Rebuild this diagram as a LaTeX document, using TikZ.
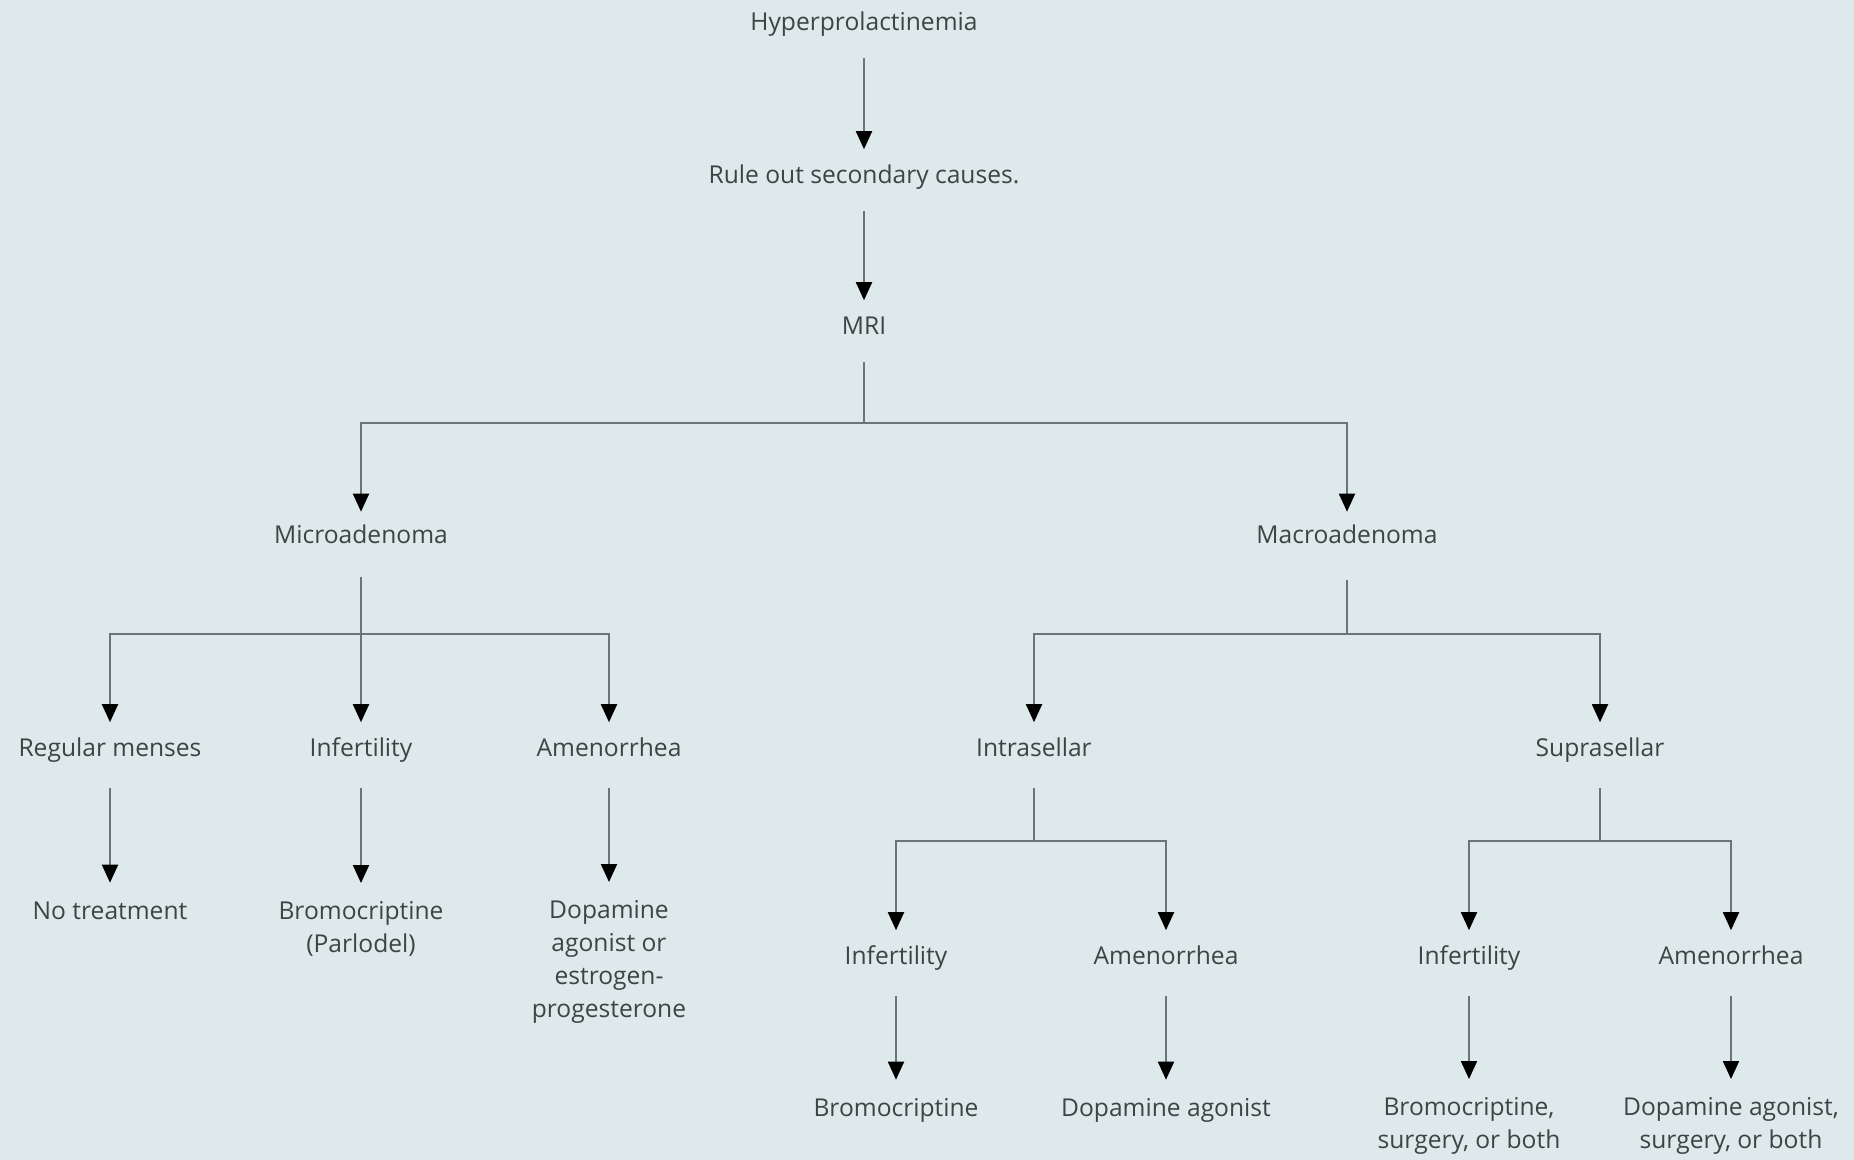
\documentclass[tikz,border=0pt]{standalone}
\usepackage{fontspec}
\setmainfont{Open Sans}
\usetikzlibrary{arrows.meta}
\definecolor{bgc}{HTML}{DDE9EA}
\definecolor{linec}{HTML}{6B7575}
\definecolor{txtc}{HTML}{3E4444}
\tikzset{
  lbl/.style={inner sep=0pt, text=txtc, align=center, font=\fontsize{14}{18.8}\selectfont, text height=10.5pt, text depth=3pt},
  lbls/.style={inner sep=0pt, text=txtc, align=center, font=\fontsize{14}{18.8}\selectfont},
}
\begin{document}
\begin{tikzpicture}[x=0.02cm, y=-0.02cm, line width=1.1pt, color=linec,
    >={Triangle[length=0.36cm,width=0.32cm,color=black]}]
    \fill[bgc] (0,0) rectangle (1854,1160);
    \useasboundingbox (0,0) rectangle (1854,1160);

    \node[lbl] (hyper) at (864,24) {Hyperprolactinemia};
    \node[lbl] (rule) at (864,177) {Rule out secondary causes.};
    \node[lbl] (mri) at (864,328) {MRI};
    \node[lbl] (micro) at (361,537) {Microadenoma};
    \node[lbl] (macro) at (1347,537) {Macroadenoma};

    \node[lbl] (menses) at (110,750) {Regular menses};
    \node[lbl] (infa) at (361,750) {Infertility};
    \node[lbl] (amena) at (609,750) {Amenorrhea};
    \node[lbl] (intra) at (1034,750) {Intrasellar};
    \node[lbl] (supra) at (1600,750) {Suprasellar};

    \node[lbl] (notreat) at (110,913) {No treatment};
    \node[lbls] (bromoa) at (361,929) {Bromocriptine\\(Parlodel)};
    \node[lbls] (dopa) at (609,962) {Dopamine\\agonist or\\estrogen-\\progesterone};

    \node[lbl] (infb) at (896,958) {Infertility};
    \node[lbl] (amenb) at (1166,958) {Amenorrhea};
    \node[lbl] (infc) at (1469,958) {Infertility};
    \node[lbl] (amenc) at (1731,958) {Amenorrhea};

    \node[lbl] (bromob) at (896,1110) {Bromocriptine};
    \node[lbl] (dopb) at (1166,1110) {Dopamine agonist};
    \node[lbls] (bromoc) at (1469,1126) {Bromocriptine,\\surgery, or both};
    \node[lbls] (dopc) at (1731,1126) {Dopamine agonist,\\surgery, or both};

    \coordinate (jmri) at (864,423);
    \coordinate (jmicro) at (361,634);
    \coordinate (jmacro) at (1347,634);
    \coordinate (jintra) at (1034,841);
    \coordinate (jsupra) at (1600,841);

    \draw[->, shorten <=0.42cm, shorten >=0.3cm] (hyper) -- (rule);
    \draw[->, shorten <=0.42cm, shorten >=0.3cm] (rule) -- (mri);
    \draw[shorten <=0.42cm] (mri) -- (jmri);
    \draw[->, shorten >=0.25cm] (jmri) -| (micro);
    \draw[->, shorten >=0.25cm] (jmri) -| (macro);

    \draw[->, shorten <=0.55cm, shorten >=0.3cm] (micro) -- (infa);
    \draw[->, shorten >=0.3cm] (jmicro) -| (menses);
    \draw[->, shorten >=0.3cm] (jmicro) -| (amena);
    \draw[shorten <=0.6cm] (macro) -- (jmacro);
    \draw[->, shorten >=0.3cm] (jmacro) -| (intra);
    \draw[->, shorten >=0.3cm] (jmacro) -| (supra);

    \draw[->, shorten <=0.5cm, shorten >=0.35cm] (menses) -- (notreat);
    \draw[->, shorten <=0.5cm, shorten >=0.35cm] (infa) -- (bromoa);
    \draw[->, shorten <=0.5cm, shorten >=0.35cm] (amena) -- (dopa);

    \draw[shorten <=0.5cm] (intra) -- (jintra);
    \draw[->, shorten >=0.3cm] (jintra) -| (infb);
    \draw[->, shorten >=0.3cm] (jintra) -| (amenb);
    \draw[shorten <=0.5cm] (supra) -- (jsupra);
    \draw[->, shorten >=0.3cm] (jsupra) -| (infc);
    \draw[->, shorten >=0.3cm] (jsupra) -| (amenc);

    \draw[->, shorten <=0.5cm, shorten >=0.35cm] (infb) -- (bromob);
    \draw[->, shorten <=0.5cm, shorten >=0.35cm] (amenb) -- (dopb);
    \draw[->, shorten <=0.5cm, shorten >=0.35cm] (infc) -- (bromoc);
    \draw[->, shorten <=0.5cm, shorten >=0.35cm] (amenc) -- (dopc);
\end{tikzpicture}
\end{document}
